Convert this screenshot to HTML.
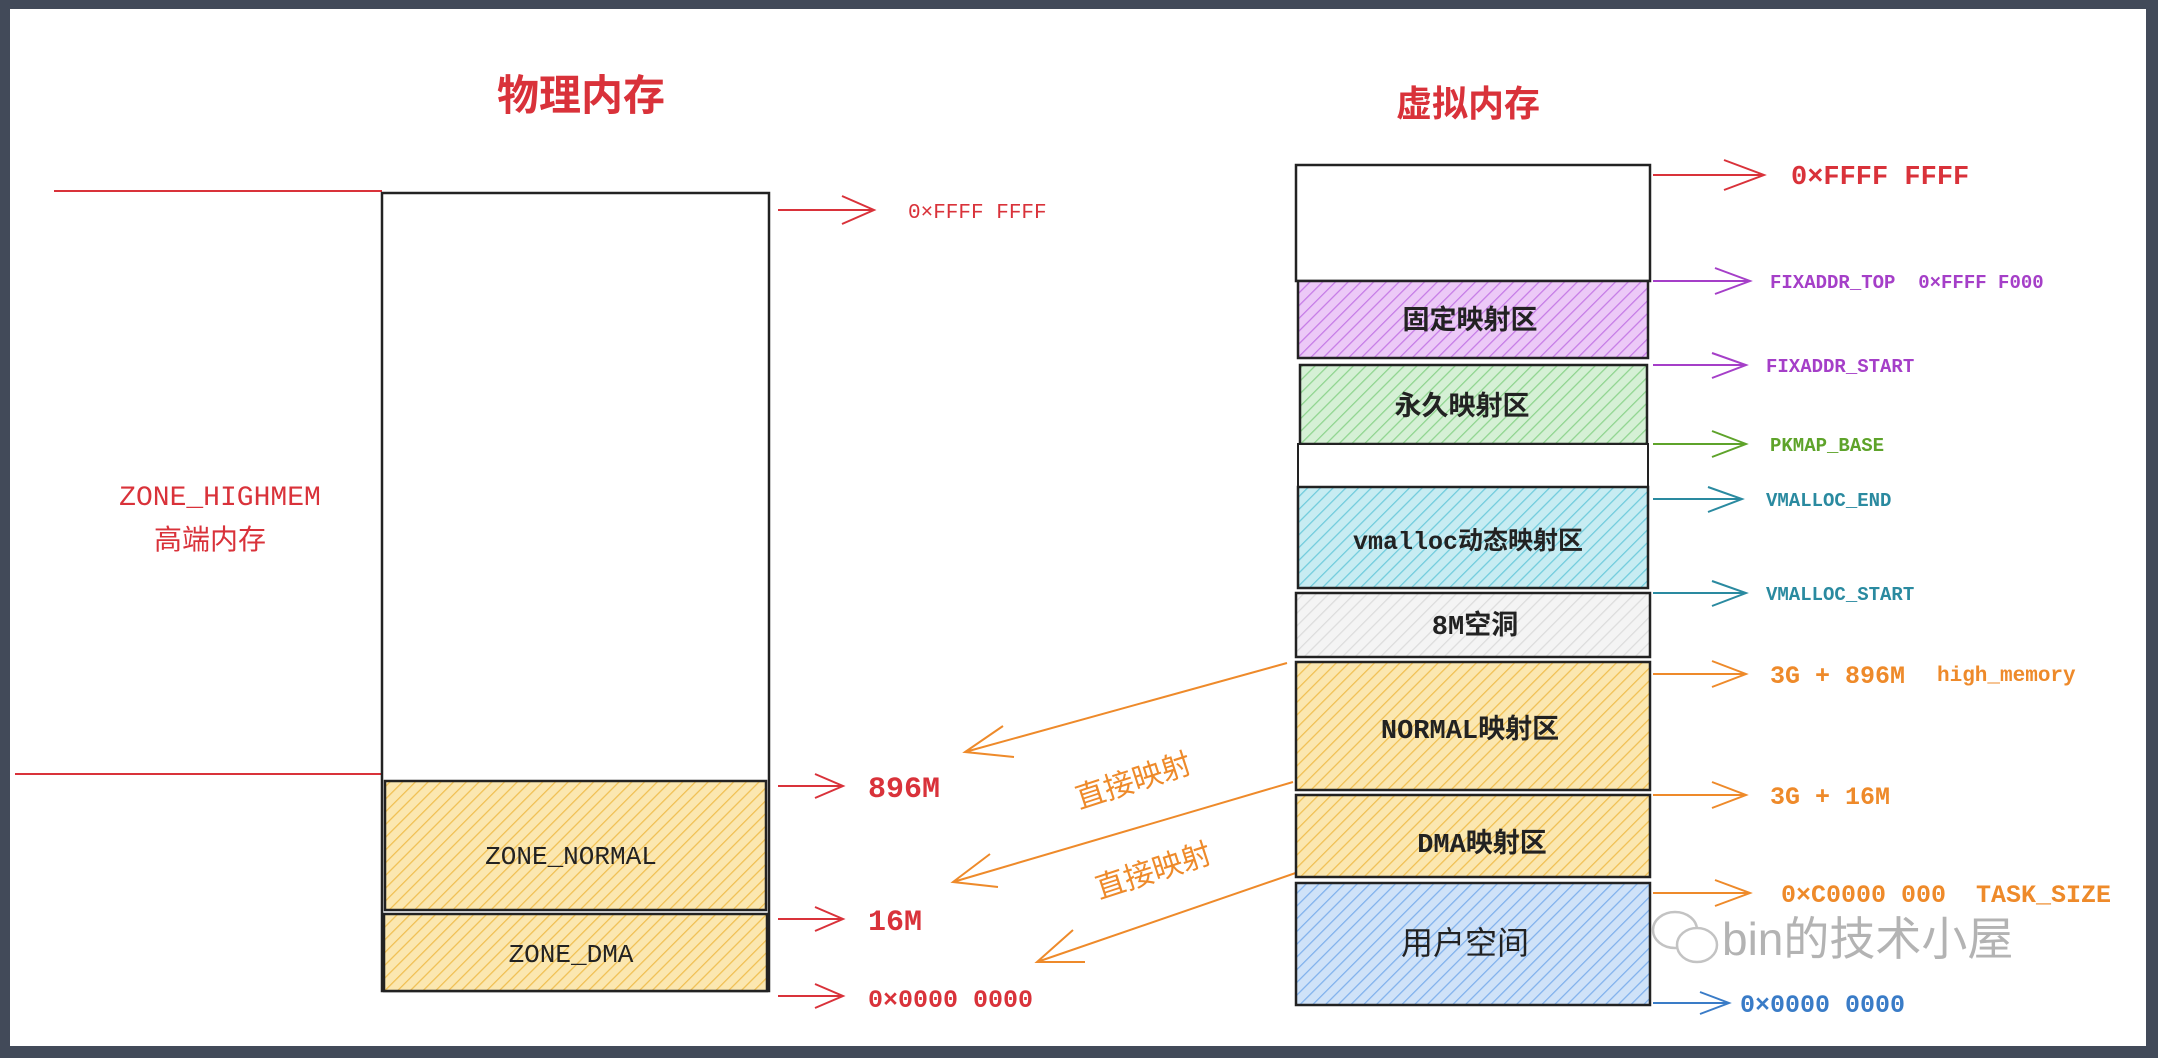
<!DOCTYPE html>
<html><head><meta charset="utf-8"><style>
html,body{margin:0;padding:0;width:2158px;height:1058px;overflow:hidden;background:#424a59}
svg{display:block}
text{font-family:"Liberation Mono","Noto Sans CJK SC",monospace}
.cj{font-family:"Liberation Sans","Noto Sans CJK SC",sans-serif}
</style></head><body>
<svg width="2158" height="1058" viewBox="0 0 2158 1058" xmlns="http://www.w3.org/2000/svg">
<defs>
<pattern id="hy" width="9" height="9" patternUnits="userSpaceOnUse" patternTransform="rotate(45)"><rect width="9" height="9" fill="#fbe7b0"/><line x1="0" y1="0" x2="0" y2="9" stroke="#f0bf52" stroke-width="2.5"/></pattern>
<pattern id="hp" width="9" height="9" patternUnits="userSpaceOnUse" patternTransform="rotate(45)"><rect width="9" height="9" fill="#ecc9f7"/><line x1="0" y1="0" x2="0" y2="9" stroke="#c57ae6" stroke-width="2.5"/></pattern>
<pattern id="hg" width="9" height="9" patternUnits="userSpaceOnUse" patternTransform="rotate(45)"><rect width="9" height="9" fill="#d5f0d5"/><line x1="0" y1="0" x2="0" y2="9" stroke="#8ed48e" stroke-width="2.5"/></pattern>
<pattern id="hc" width="9" height="9" patternUnits="userSpaceOnUse" patternTransform="rotate(45)"><rect width="9" height="9" fill="#c7ecf2"/><line x1="0" y1="0" x2="0" y2="9" stroke="#6fcbdc" stroke-width="2.5"/></pattern>
<pattern id="hw" width="9" height="9" patternUnits="userSpaceOnUse" patternTransform="rotate(45)"><rect width="9" height="9" fill="#f4f4f4"/><line x1="0" y1="0" x2="0" y2="9" stroke="#dcdcdc" stroke-width="2.5"/></pattern>
<pattern id="hb" width="9" height="9" patternUnits="userSpaceOnUse" patternTransform="rotate(45)"><rect width="9" height="9" fill="#cfe2f8"/><line x1="0" y1="0" x2="0" y2="9" stroke="#7fb0ec" stroke-width="2.5"/></pattern>
</defs>
<rect x="10" y="9" width="2136" height="1037" fill="#fff"/>

<!-- Physical -->
<text x="581" y="110" font-size="42" fill="#d9323a" text-anchor="middle" class="cj" font-weight="bold">物理内存</text>
<line x1="54" y1="191" x2="382" y2="191" stroke="#d9323a" stroke-width="2"/>
<line x1="15" y1="774" x2="382" y2="774" stroke="#d9323a" stroke-width="2"/>
<rect x="382" y="193" width="387" height="798" fill="#fff" stroke="#222" stroke-width="2.5"/>
<rect x="385" y="781" width="381" height="129" fill="url(#hy)" stroke="#222" stroke-width="2.5"/>
<rect x="384" y="914" width="383" height="77" fill="url(#hy)" stroke="#222" stroke-width="2.5"/>
<text x="571" y="864" font-size="26" fill="#222" text-anchor="middle">ZONE_NORMAL</text>
<text x="571" y="962" font-size="26" fill="#222" text-anchor="middle">ZONE_DMA</text>
<text x="220" y="505" font-size="28" fill="#d9323a" text-anchor="middle">ZONE_HIGHMEM</text>
<text x="210" y="549" font-size="28" fill="#d9323a" text-anchor="middle" class="cj">高端内存</text>
<g stroke="#d9323a" stroke-width="2" fill="none">
<path d="M778 210 L874 210 M842 196 L874 210 L842 224"/>
<path d="M778 786 L843 786 M815 774 L843 786 L815 798"/>
<path d="M778 919 L843 919 M815 907 L843 919 L815 931"/>
<path d="M778 996 L843 996 M815 984 L843 996 L815 1008"/>
</g>
<text x="908" y="218" font-size="21" fill="#d9323a">0×FFFF FFFF</text>
<text x="868" y="797" font-size="30" fill="#d9323a" font-weight="bold">896M</text>
<text x="868" y="930" font-size="30" fill="#d9323a" font-weight="bold">16M</text>
<text x="868" y="993" font-size="25" fill="#d9323a" font-weight="bold" dy="14">0×0000 0000</text>

<!-- mapping arrows -->
<g stroke="#ee8a2a" stroke-width="2" fill="none">
<path d="M1287 663 L965 752 M1003 726 L965 752 L1014 757"/>
<path d="M1293 782 L953 882 M990 854 L953 882 L998 887"/>
<path d="M1313 867 L1037 962 M1073 930 L1037 962 L1085 962"/>
</g>
<text x="1133" y="791" font-size="30" fill="#ee8a2a" text-anchor="middle" class="cj" transform="rotate(-18 1133 780)">直接映射</text>
<text x="1153" y="881" font-size="30" fill="#ee8a2a" text-anchor="middle" class="cj" transform="rotate(-18 1153 870)">直接映射</text>

<!-- Virtual -->
<text x="1468" y="116" font-size="36" fill="#d9323a" text-anchor="middle" class="cj" font-weight="bold">虚拟内存</text>
<rect x="1296" y="165" width="354" height="116" fill="#fff" stroke="#222" stroke-width="2.5"/>
<rect x="1298" y="281" width="350" height="77" fill="url(#hp)" stroke="#222" stroke-width="2.5"/>
<rect x="1300" y="365" width="347" height="79" fill="url(#hg)" stroke="#222" stroke-width="2.5"/>
<rect x="1298" y="444" width="350" height="43" fill="#fff" stroke="#222" stroke-width="2"/>
<rect x="1298" y="487" width="350" height="101" fill="url(#hc)" stroke="#222" stroke-width="2.5"/>
<rect x="1296" y="593" width="354" height="64" fill="url(#hw)" stroke="#222" stroke-width="2.5"/>
<rect x="1296" y="662" width="354" height="128" fill="url(#hy)" stroke="#222" stroke-width="2.5"/>
<rect x="1296" y="795" width="354" height="82" fill="url(#hy)" stroke="#222" stroke-width="2.5"/>
<rect x="1296" y="883" width="354" height="122" fill="url(#hb)" stroke="#222" stroke-width="2.5"/>
<g font-size="27" fill="#222" text-anchor="middle" class="cj" font-weight="bold">
<text x="1470" y="329" class="cj">固定映射区</text>
<text x="1462" y="415" class="cj">永久映射区</text>
<text x="1468" y="549" font-size="25">vmalloc动态映射区</text>
<text x="1475" y="634">8M空洞</text>
<text x="1470" y="738">NORMAL映射区</text>
<text x="1482" y="852">DMA映射区</text>
<text x="1465" y="954" font-size="32" class="cj" font-weight="normal">用户空间</text>
</g>
<g stroke-width="2" fill="none">
<path stroke="#d9323a" d="M1653 175 L1764 175 M1724 160 L1764 175 L1724 190"/>
<path stroke="#a53fc8" d="M1653 281 L1750 281 M1715 268 L1750 281 L1715 294"/>
<path stroke="#a53fc8" d="M1653 365 L1746 365 M1712 353 L1746 365 L1712 378"/>
<path stroke="#5ea32a" d="M1653 444 L1746 444 M1712 431 L1746 444 L1712 457"/>
<path stroke="#2a8aa0" d="M1653 499 L1742 499 M1708 487 L1742 499 L1708 512"/>
<path stroke="#2a8aa0" d="M1653 593 L1746 593 M1712 581 L1746 593 L1712 606"/>
<path stroke="#ee8a2a" d="M1653 674 L1746 674 M1712 661 L1746 674 L1712 687"/>
<path stroke="#ee8a2a" d="M1653 795 L1746 795 M1712 782 L1746 795 L1712 808"/>
<path stroke="#ee8a2a" d="M1653 893 L1750 893 M1715 880 L1750 893 L1715 906"/>
<path stroke="#3a7cc7" d="M1653 1003 L1729 1003 M1700 992 L1729 1003 L1700 1014"/>
</g>
<text x="1791" y="184" font-size="27" fill="#d9323a" font-weight="bold">0×FFFF FFFF</text>
<text x="1770" y="288" font-size="19" fill="#a53fc8" font-weight="bold">FIXADDR_TOP&#160;&#160;0×FFFF F000</text>
<text x="1766" y="372" font-size="19" fill="#a53fc8" font-weight="bold">FIXADDR_START</text>
<text x="1770" y="451" font-size="19" fill="#5ea32a" font-weight="bold">PKMAP_BASE</text>
<text x="1766" y="506" font-size="19" fill="#2a8aa0" font-weight="bold">VMALLOC_END</text>
<text x="1766" y="600" font-size="19" fill="#2a8aa0" font-weight="bold">VMALLOC_START</text>
<text x="1770" y="683" font-size="25" fill="#ee8a2a" font-weight="bold">3G + 896M</text>
<text x="1937" y="669" font-size="21" fill="#ee8a2a" font-weight="bold" dy="12">high_memory</text>
<text x="1770" y="804" font-size="25" fill="#ee8a2a" font-weight="bold">3G + 16M</text>
<text x="1781" y="902" font-size="25" fill="#ee8a2a" font-weight="bold">0×C0000 000&#160;&#160;TASK_SIZE</text>
<text x="1740" y="1012" font-size="25" fill="#3a7cc7" font-weight="bold">0×0000 0000</text>

<!-- watermark -->
<g opacity="0.5" stroke="#888" stroke-width="2.5" fill="none">
<ellipse cx="1675" cy="930" rx="22" ry="18"/>
<ellipse cx="1697" cy="945" rx="20" ry="17" fill="#fff"/>
</g>
<text x="1722" y="955" font-size="46" fill="#a0a0a0" fill-opacity="0.8" class="cj">bin的技术小屋</text>
</svg>
</body></html>
